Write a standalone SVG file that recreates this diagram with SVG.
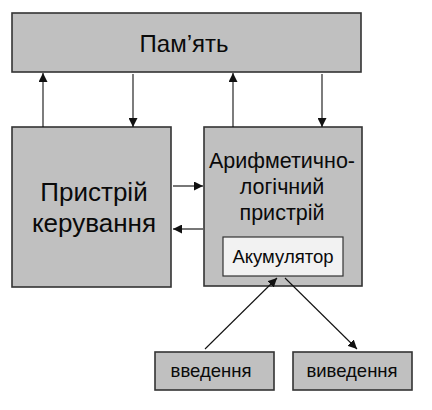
<svg xmlns="http://www.w3.org/2000/svg" width="432" height="410" viewBox="0 0 432 410">
<style>
.box{fill:#c0c0c0;stroke:#333;stroke-width:1.6}
.acc{fill:#f2f2f2;stroke:#333;stroke-width:1.2}
text{font-family:"Liberation Sans",Arial,sans-serif;fill:#0a0a0a;text-anchor:middle}
.c{stroke:#111;stroke-width:1.1;fill:none}
.g{stroke:#555;stroke-width:1.6;fill:none}
</style>
<defs>
<marker id="a" viewBox="0 0 10 10" refX="10" refY="5" markerWidth="9" markerHeight="9" markerUnits="userSpaceOnUse" orient="auto"><path d="M0,0L10,5L0,10z" fill="#111"/></marker>
</defs>
<rect width="432" height="410" fill="#fff"/>
<g id="memory">
<rect class="box" x="12" y="13" width="349" height="59"/>
<text x="184" y="52" font-size="24">Пам’ять</text>
</g>
<g id="control">
<rect class="box" x="12" y="127" width="159" height="160"/>
<text x="94" y="201" font-size="26">Пристрій</text>
<text x="94" y="232" font-size="26">керування</text>
</g>
<g id="alu">
<rect class="box" x="204" y="127" width="158" height="159"/>
<text x="282" y="168" font-size="21.5">Арифметично-</text>
<text x="282" y="194" font-size="21.5">логічний</text>
<text x="282" y="220" font-size="21.5">пристрій</text>
</g>
<g id="accumulator">
<rect class="acc" x="223" y="237" width="120" height="39"/>
<text x="283" y="263" font-size="18.5">Акумулятор</text>
</g>
<g id="input">
<rect class="box" x="155" y="352" width="119" height="38"/>
<text x="211" y="377" font-size="18.5">введення</text>
</g>
<g id="output">
<rect class="box" x="293" y="352" width="119" height="38"/>
<text x="352" y="377" font-size="18.5">виведення</text>
</g>
<g id="connectors">
<line class="c" x1="43" y1="127" x2="43" y2="73" marker-end="url(#a)"/>
<line class="c" x1="133" y1="74" x2="133" y2="127" marker-end="url(#a)"/>
<line class="c" x1="233" y1="127" x2="233" y2="73" marker-end="url(#a)"/>
<line class="c" x1="322" y1="74" x2="322" y2="127" marker-end="url(#a)"/>
<line class="g" x1="173" y1="186" x2="203" y2="186" marker-end="url(#a)"/>
<line class="g" x1="203" y1="229" x2="173" y2="229" marker-end="url(#a)"/>
<line class="c" x1="205" y1="349" x2="277" y2="278" marker-end="url(#a)"/>
<line class="c" x1="285" y1="278" x2="357" y2="349" marker-end="url(#a)"/>
</g>
</svg>
